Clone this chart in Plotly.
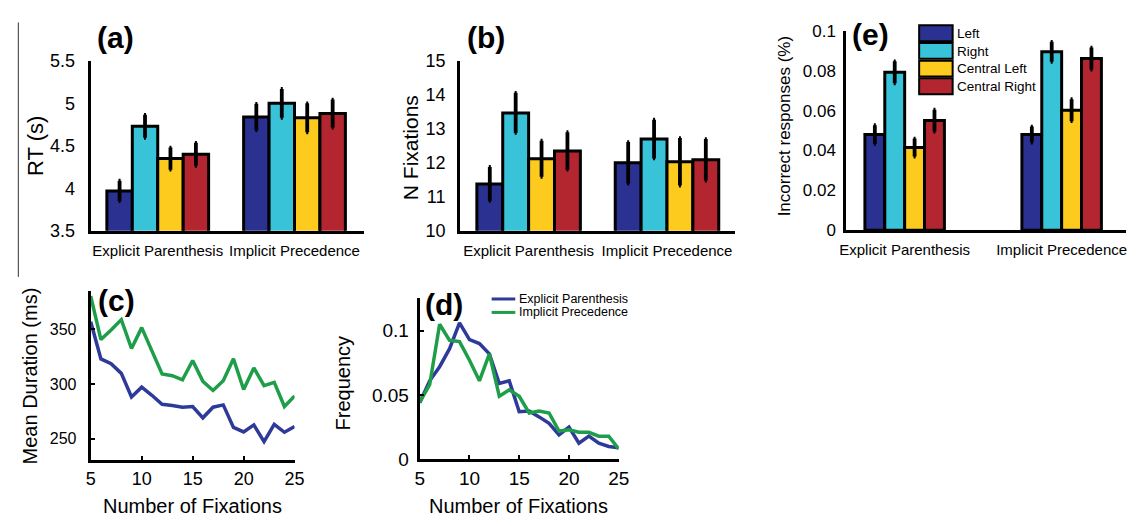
import plotly.graph_objects as go

# ---------------- data ----------------
conditions = ["Left", "Right", "Central Left", "Central Right"]
cond_colors = ["#2B3191", "#38C3D9", "#FCCB1E", "#B3252F"]
groups = ["Explicit Parenthesis", "Implicit Precedence"]

# (a) RT (s)   [Explicit, Implicit]
rt_left = [3.97, 4.84]
rt_right = [4.73, 5.00]
rt_cleft = [4.35, 4.83]
rt_cright = [4.40, 4.88]
rt_left_err = [0.12, 0.155]
rt_right_err = [0.135, 0.17]
rt_cleft_err = [0.13, 0.17]
rt_cright_err = [0.135, 0.165]

# (b) N Fixations
nf_left = [11.38, 12.0]
nf_right = [13.47, 12.7]
nf_cleft = [12.12, 12.03]
nf_cright = [12.35, 12.09]
nf_left_err = [0.5, 0.61]
nf_right_err = [0.59, 0.57]
nf_cleft_err = [0.53, 0.7]
nf_cright_err = [0.55, 0.61]

# (e) Incorrect responses
ir_left = [0.048, 0.048]
ir_right = [0.0792, 0.0895]
ir_cleft = [0.0415, 0.0602]
ir_cright = [0.055, 0.0861]
ir_left_err = [0.0047, 0.004]
ir_right_err = [0.0055, 0.005]
ir_cleft_err = [0.0045, 0.0055]
ir_cright_err = [0.0055, 0.0055]

# (c) and (d) line data
series_names = ["Explicit Parenthesis", "Implicit Precedence"]
series_colors = ["#2E3A9A", "#1F9E4A"]
n_fix = [5, 6, 7, 8, 9, 10, 11, 12, 13, 14, 15, 16, 17, 18, 19, 20, 21, 22, 23, 24, 25]
dur_explicit = [356.8, 322.9, 318.5, 309.7, 288.2, 297.1, 289.7, 281.5, 280.3, 278.8, 279.4,
                269.1, 278.8, 280.9, 260.3, 256.2, 262.6, 247.4, 263.2, 255.9, 261.2]
dur_implicit = [380.3, 340.6, 349.4, 358.8, 332.4, 351.5, 330.3, 309.1, 307.6, 303.8, 321.5,
                302.4, 294.1, 303.0, 323.0, 295.0, 314.7, 298.5, 301.5, 279.4, 289.1]
freq_explicit = [0.044, 0.061, 0.072, 0.086, 0.106, 0.093, 0.090, 0.082, 0.059, 0.061, 0.037,
                 0.0375, 0.033, 0.028, 0.019, 0.025, 0.0125, 0.018, 0.0125, 0.010, 0.009]
freq_implicit = [0.0445, 0.058, 0.105, 0.0925, 0.0915, 0.077, 0.061, 0.082, 0.049, 0.054, 0.049,
                 0.036, 0.0375, 0.036, 0.022, 0.023, 0.021, 0.021, 0.018, 0.018, 0.008]

W, H = 1138, 526
FONT = "Liberation Sans, Arial, sans-serif"


def px_x(p):
    return p / W


def px_y(p):
    return 1 - p / H


def xdom(a, b):
    return [px_x(a), px_x(b)]


def ydom(top, bottom):
    return [px_y(bottom), px_y(top)]


fig = go.Figure()


def add_bars(vals_list, errs_list, width, xa, ya):
    n = len(vals_list)
    for k, (vals, errs) in enumerate(zip(vals_list, errs_list)):
        fig.add_trace(go.Bar(
            x=list(range(len(groups))), y=vals,
            width=width, offset=(k - n / 2) * width,
            marker=dict(color=cond_colors[k], line=dict(color="black", width=3)),
            error_y=dict(type="data", array=errs, color="black", thickness=3.8, width=1),
            name=conditions[k], showlegend=False, xaxis=xa, yaxis=ya,
        ))


add_bars([rt_left, rt_right, rt_cleft, rt_cright],
         [rt_left_err, rt_right_err, rt_cleft_err, rt_cright_err], 0.186, "x", "y")
add_bars([nf_left, nf_right, nf_cleft, nf_cright],
         [nf_left_err, nf_right_err, nf_cleft_err, nf_cright_err], 0.187, "x2", "y2")
add_bars([ir_left, ir_right, ir_cleft, ir_cright],
         [ir_left_err, ir_right_err, ir_cleft_err, ir_cright_err], 0.1266, "x3", "y3")

for name, col, vals in zip(series_names, series_colors, [dur_explicit, dur_implicit]):
    fig.add_trace(go.Scatter(x=n_fix, y=vals, mode="lines", name=name,
                             line=dict(color=col, width=3.5), showlegend=False,
                             xaxis="x4", yaxis="y4"))
for name, col, vals in zip(series_names, series_colors, [freq_explicit, freq_implicit]):
    fig.add_trace(go.Scatter(x=n_fix, y=vals, mode="lines", name=name,
                             line=dict(color=col, width=3.5), showlegend=False,
                             xaxis="x5", yaxis="y5"))

axis_common = dict(showline=True, linecolor="black", linewidth=3, showgrid=False,
                   zeroline=False, fixedrange=True)


def cat_xaxis(dom, rng, anchor, size=15):
    return dict(axis_common, domain=dom, range=rng, anchor=anchor,
                tickvals=list(range(len(groups))), ticktext=groups, ticks="",
                tickfont=dict(size=size, color="black", family=FONT),
                ticklabelstandoff=4)


def val_yaxis(dom, rng, anchor, tickvals, ticktext, size, standoff):
    return dict(axis_common, domain=dom, range=rng, anchor=anchor,
                tickvals=tickvals, ticktext=ticktext, ticks="",
                tickfont=dict(size=size, color="black", family=FONT),
                ticklabelstandoff=standoff)


fig.update_layout(
    width=W, height=H, margin=dict(l=0, r=0, t=0, b=0),
    paper_bgcolor="white", plot_bgcolor="white",
    barmode="overlay", font=dict(family=FONT, color="black"),
    xaxis=cat_xaxis(xdom(86, 363), [-0.49, 1.505], "y"),
    yaxis=val_yaxis(ydom(53, 230), [3.5, 5.5], "x", [3.5, 4, 4.5, 5, 5.5],
                    ["3.5", "4", "4.5", "5", "5.5"], 18, 9),
    xaxis2=cat_xaxis(xdom(461, 740), [-0.495, 1.491], "y2"),
    yaxis2=val_yaxis(ydom(53, 230), [10, 15], "x2", [10, 11, 12, 13, 14, 15],
                     ["10", "11", "12", "13", "14", "15"], 18, 8),
    xaxis3=cat_xaxis(xdom(853, 1137), [-0.372, 1.41], "y3"),
    yaxis3=val_yaxis(ydom(21.7, 229.5), [0, 0.1], "x3", [0, 0.02, 0.04, 0.06, 0.08, 0.1],
                     ["0", "0.02", "0.04", "0.06", "0.08", "0.1"], 17, 4),
    xaxis4=dict(axis_common, domain=xdom(86, 293), range=[5, 25], anchor="y4",
                tickvals=[5, 10, 15, 20, 25], ticks="inside", ticklen=4, tickwidth=1.5,
                tickcolor="black", tickfont=dict(size=18, color="black", family=FONT)),
    yaxis4=dict(axis_common, domain=ydom(293, 469), range=[230.3, 384.7], anchor="x4",
                tickvals=[250, 300, 350], ticks="inside", ticklen=4, tickwidth=1.5,
                tickcolor="black", tickfont=dict(size=16, color="black", family=FONT),
                ticklabelstandoff=8),
    xaxis5=dict(axis_common, domain=xdom(420, 622), range=[5, 25], anchor="y5",
                tickvals=[5, 10, 15, 20, 25], ticks="inside", ticklen=4, tickwidth=1.5,
                tickcolor="black", tickfont=dict(size=19, color="black", family=FONT)),
    yaxis5=dict(axis_common, domain=ydom(300, 468), range=[0, 0.1254], anchor="x5",
                tickvals=[0, 0.05, 0.1], ticktext=["0", "0.05", "0.1"], ticks="inside",
                ticklen=4, tickwidth=1.5, tickcolor="black",
                tickfont=dict(size=19, color="black", family=FONT), ticklabelstandoff=4),
)

annotations = []


def ann(text, x, y, size, bold=False, angle=0, xanchor="center"):
    annotations.append(dict(
        text=f"<b>{text}</b>" if bold else text, x=px_x(x), y=px_y(y),
        xref="paper", yref="paper", showarrow=False, textangle=angle,
        xanchor=xanchor, yanchor="middle",
        font=dict(size=size, color="black", family=FONT)))


# panel labels
ann("(a)", 111, 29, 30, bold=True)
ann("(b)", 487, 29, 30, bold=True)
ann("(e)", 878, 25, 30, bold=True)
ann("(c)", 112, 303, 30, bold=True)
ann("(d)", 445, 307, 30, bold=True)

# axis titles
ann("RT (s)", 30, 142, 22, angle=-90)
ann("N Fixations", 410, 143, 21, angle=-90)
ann("Incorrect responses (%)", 790, 121, 17, angle=-90)
ann("Mean Duration (ms)", 24, 381, 20, angle=-90)
ann("Frequency", 342, 388, 20, angle=-90)
ann("Number of Fixations", 189, 517, 20)
ann("Number of Fixations", 520, 517, 20)

shapes = []
# thin divider line on the far left
shapes.append(dict(type="line", xref="paper", yref="paper",
                   x0=px_x(12.5), x1=px_x(12.5), y0=px_y(13), y1=px_y(278),
                   line=dict(color="#333333", width=1)))

# legend for (e)
leg_top = 16
for i, (name, col) in enumerate(zip(conditions, cond_colors)):
    t = leg_top + i * 18.4
    shapes.append(dict(type="rect", xref="paper", yref="paper",
                       x0=px_x(927), x1=px_x(961), y0=px_y(t + 16.5), y1=px_y(t),
                       fillcolor=col, line=dict(color="black", width=2)))
    ann(name, 963, t + 8.5, 13.5, bold=False, xanchor="left")

# legend for (d)
for i, (name, col) in enumerate(zip(series_names, series_colors)):
    yy = 301 + i * 14
    shapes.append(dict(type="line", xref="paper", yref="paper",
                       x0=px_x(493), x1=px_x(517), y0=px_y(yy), y1=px_y(yy),
                       line=dict(color=col, width=3)))
    ann(name, 519, yy, 12.5, xanchor="left")

fig.update_layout(annotations=annotations, shapes=shapes)

fig.write_html("out.html", config={"displayModeBar": False},
               post_script="document.body.style.margin='0';document.body.style.overflow='hidden';")
